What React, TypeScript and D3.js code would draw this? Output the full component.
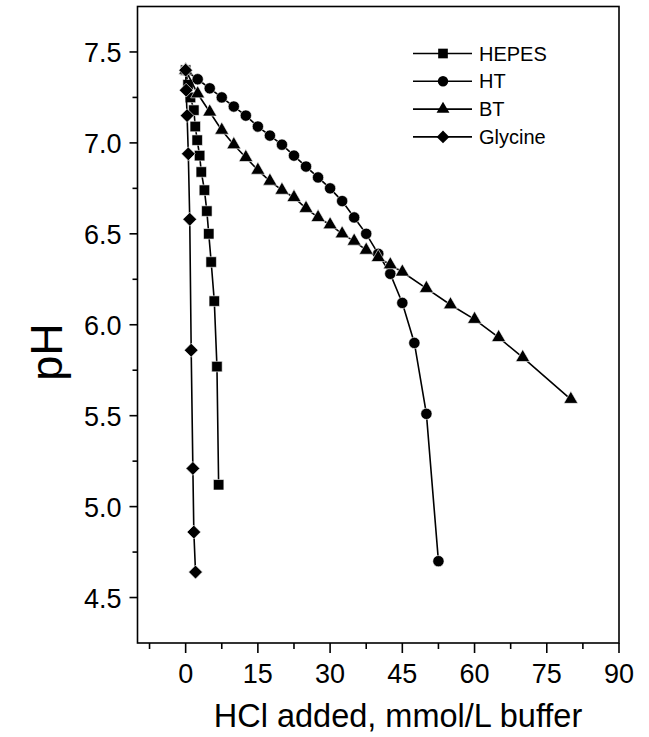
import React from "react";
import * as d3 from "d3";

const hepesX = [0, 0.5, 1.0, 1.7, 2.0, 2.4, 2.9, 3.25, 3.9, 4.4, 4.8, 5.3, 5.95, 6.5, 6.85];
const hepesPH = [7.40, 7.32, 7.25, 7.18, 7.09, 7.015, 6.93, 6.84, 6.74, 6.625, 6.50, 6.345, 6.13, 5.77, 5.12];

const htX = [0, 2.5, 5, 7.5, 10, 12.5, 15, 17.5, 20, 22.5, 25, 27.5, 30, 32.5, 35, 37.5, 40, 42.5, 45, 47.5, 50, 52.5];
const htPH = [7.40, 7.35, 7.30, 7.25, 7.20, 7.15, 7.09, 7.04, 6.99, 6.93, 6.87, 6.81, 6.75, 6.68, 6.59, 6.50, 6.39, 6.28, 6.12, 5.90, 5.51, 4.70];

const btX = [0, 2.5, 5, 7.5, 10, 12.5, 15, 17.5, 20, 22.5, 25, 27.5, 30, 32.5, 35, 37.5, 40, 42.5, 45, 50, 55, 60, 65, 70, 80];
const btPH = [7.40, 7.27, 7.17, 7.07, 6.99, 6.92, 6.85, 6.79, 6.74, 6.70, 6.64, 6.59, 6.55, 6.50, 6.46, 6.41, 6.37, 6.33, 6.29, 6.20, 6.11, 6.03, 5.93, 5.82, 5.59];

const glyX = [0, 0.1, 0.3, 0.55, 0.85, 1.15, 1.5, 1.7, 2.05];
const glyPH = [7.40, 7.29, 7.15, 6.94, 6.58, 5.86, 5.21, 4.86, 4.64];

const seriesNames = ["HEPES", "HT", "BT", "Glycine"];
const xMajorTicks = [0, 15, 30, 45, 60, 75, 90];
const xMinorTicks = [-7.5, 7.5, 22.5, 37.5, 52.5, 67.5, 82.5];
const yMajorTicks = [4.5, 5.0, 5.5, 6.0, 6.5, 7.0, 7.5];
const yMinorTicks = [4.75, 5.25, 5.75, 6.25, 6.75, 7.25];

const FONT = "'Liberation Sans', Arial, Helvetica, sans-serif";

type Kind = "square" | "circle" | "triangle" | "diamond";

function markerPath(kind: Kind, scale = 1): { d: string; rot: number } {
  if (kind === "square") return { d: d3.symbol(d3.symbolSquare, 110 * scale)()!, rot: 0 };
  if (kind === "circle") return { d: d3.symbol(d3.symbolCircle, 100 * scale)()!, rot: 0 };
  if (kind === "triangle") return { d: d3.symbol(d3.symbolTriangle, 85 * scale)()!, rot: 0 };
  return { d: d3.symbol(d3.symbolSquare, 95 * scale)()!, rot: 45 };
}

export default function App() {
  const W = 649, H = 737;
  const x = d3.scaleLinear().domain([-10, 90]).range([137.5, 619]);
  const y = d3.scaleLinear().domain([4.25, 7.75]).range([643, 6.5]);

  const series: { name: string; xs: number[]; ys: number[]; kind: Kind }[] = [
    { name: seriesNames[0], xs: hepesX, ys: hepesPH, kind: "square" },
    { name: seriesNames[1], xs: htX, ys: htPH, kind: "circle" },
    { name: seriesNames[2], xs: btX, ys: btPH, kind: "triangle" },
    { name: seriesNames[3], xs: glyX, ys: glyPH, kind: "diamond" },
  ];

  const line = d3.line<[number, number]>().x((d) => x(d[0])).y((d) => y(d[1]));

  const [x0, x1] = x.range();
  const [yb, yt] = y.range();

  return (
    <svg width={W} height={H} style={{ position: "absolute", left: 0, top: 0, background: "#fff" }}
      fontFamily={FONT}>
      <rect x={0} y={0} width={W} height={H} fill="#fff" />
      {/* frame */}
      <rect x={x0} y={yt} width={x1 - x0} height={yb - yt} fill="none" stroke="#000" strokeWidth={1.6} />
      {/* x ticks */}
      {xMajorTicks.map((t) => (
        <g key={"xM" + t}>
          <line x1={x(t)} x2={x(t)} y1={yb} y2={yb + 10} stroke="#000" strokeWidth={1.6} />
          <text x={x(t)} y={yb + 40} textAnchor="middle" fontSize={27} fill="#000">{t}</text>
        </g>
      ))}
      {xMinorTicks.map((t) => (
        <line key={"xm" + t} x1={x(t)} x2={x(t)} y1={yb} y2={yb + 6} stroke="#000" strokeWidth={1.6} />
      ))}
      {/* y ticks */}
      {yMajorTicks.map((t) => (
        <g key={"yM" + t}>
          <line x1={x0 - 8} x2={x0} y1={y(t)} y2={y(t)} stroke="#000" strokeWidth={1.6} />
          <text x={x0 - 16} y={y(t) + 10} textAnchor="end" fontSize={27} fill="#000">{t.toFixed(1)}</text>
        </g>
      ))}
      {yMinorTicks.map((t) => (
        <line key={"ym" + t} x1={x0 - 5} x2={x0} y1={y(t)} y2={y(t)} stroke="#000" strokeWidth={1.6} />
      ))}
      {/* axis titles */}
      <text x={398} y={727} textAnchor="middle" fontSize={32.5} fill="#000">HCl added, mmol/L buffer</text>
      <text transform={`translate(62,352) rotate(-90)`} textAnchor="middle" fontSize={45} fill="#000">pH</text>

      {/* series */}
      {series.map((s) => {
        const pts = s.xs.map((v, i) => [v, s.ys[i]] as [number, number]);
        const m = markerPath(s.kind);
        return (
          <g key={s.name}>
            <path d={line(pts)!} fill="none" stroke="#000" strokeWidth={1.6} />
            {pts.map((p, i) => (
              <path key={i} d={m.d}
                transform={`translate(${x(p[0])},${y(p[1])}) rotate(${m.rot})`}
                fill="#000" stroke="#fff" strokeWidth={0.6} />
            ))}
          </g>
        );
      })}

      {/* legend */}
      {series.map((s, i) => {
        const ly = 53.5 + i * 27.8;
        const m = markerPath(s.kind, 0.85);
        return (
          <g key={"lg" + s.name}>
            <line x1={413} x2={472} y1={ly} y2={ly} stroke="#000" strokeWidth={1.6} />
            <path d={m.d} transform={`translate(443,${ly}) rotate(${m.rot})`} fill="#000" />
            <text x={479} y={ly + 7} fontSize={20} fill="#000">{s.name}</text>
          </g>
        );
      })}
    </svg>
  );
}
